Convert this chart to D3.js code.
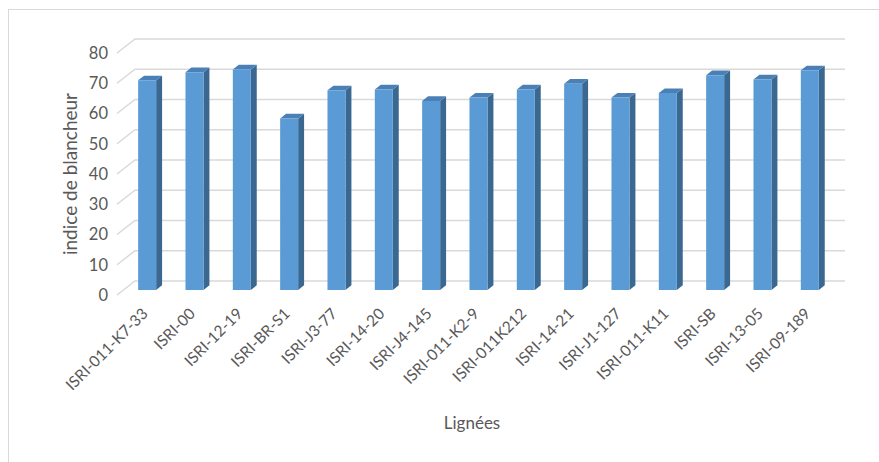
<!DOCTYPE html>
<html>
<head>
<meta charset="utf-8">
<script src="https://cdn.jsdelivr.net/npm/d3@7"></script>
<style>
  html, body { margin: 0; padding: 0; background: #fff; }
  svg { display: block; }
  text { font-family: Lato, "Open Sans", sans-serif; fill: #595959; }
</style>
</head>
<body>
<svg id="chart" width="879" height="462"></svg>
<script>
// Indice de blancheur par lignée
const categories = [
  "ISRI-011-K7-33", "ISRI-00", "ISRI-12-19", "ISRI-BR-S1", "ISRI-J3-77",
  "ISRI-14-20", "ISRI-J4-145", "ISRI-011-K2-9", "ISRI-011K212", "ISRI-14-21",
  "ISRI-J1-127", "ISRI-011-K11", "ISRI-SB", "ISRI-13-05", "ISRI-09-189"
];
const values = [69.3, 72.0, 72.9, 56.7, 66.0, 66.3, 62.5, 63.6, 66.3, 68.2, 63.6, 65.1, 71.0, 69.6, 72.6];
const yTicks = [0, 10, 20, 30, 40, 50, 60, 70, 80];
const yTitle = "indice de blancheur";
const xTitle = "Lignées";

const svg = d3.select("#chart");

// 3D frame: front plane and oblique depth offset
const front = { left: 117, right: 827, bottom: 295, top: 53 };
const depth = { dx: 18, dy: -14 };

const x = d3.scaleBand().domain(categories).range([front.left, front.right]);
const yFront = d3.scaleLinear().domain([0, 80]).range([front.bottom, front.top]);

// project a point (front-plane x, value, depth fraction) to screen
const P = (px, v, d) => [px + d * depth.dx, yFront(v) + d * depth.dy];

// chart border
svg.append("rect")
  .attr("x", 8.5).attr("y", 9.5)
  .attr("width", 1000).attr("height", 1000)
  .attr("fill", "none").attr("stroke", "#d9d9d9").attr("stroke-width", 1);

// gridlines: side wall slant + back wall horizontal
const grid = svg.append("g").attr("fill", "none")
  .attr("stroke", "#d9d9d9").attr("stroke-width", 1.5);
yTicks.forEach(t => {
  const a = P(front.left, t, 0), b = P(front.left, t, 1), c = P(front.right, t, 1);
  grid.append("path").attr("d", `M${a}L${b}L${c}`);
});

// bars as prisms: front face, top face, right side face
const barW = 18, d0 = 0.36, d1 = 0.69;
const bars = svg.append("g").selectAll("g").data(categories.map((c, i) => ({ c, v: values[i] })))
  .join("g");
bars.each(function (d) {
  const g = d3.select(this);
  const xl = x(d.c) + (x.bandwidth() - barW) / 2, xr = xl + barW;
  const poly = pts => "M" + pts.map(p => p.join(",")).join("L") + "Z";
  // side face
  g.append("path").attr("fill", "#3b6890")
    .attr("d", poly([P(xr, 0, d0), P(xr, 0, d1), P(xr, d.v, d1), P(xr, d.v, d0)]));
  // top face
  g.append("path").attr("fill", "#4b80b6")
    .attr("d", poly([P(xl, d.v, d0), P(xr, d.v, d0), P(xr, d.v, d1), P(xl, d.v, d1)]));
  // front face
  g.append("path").attr("fill", "#5b9bd5")
    .attr("d", poly([P(xl, 0, d0), P(xr, 0, d0), P(xr, d.v, d0), P(xl, d.v, d0)]));
});

// value axis on the front plane
const yAxis = svg.append("g").attr("transform", `translate(${front.left - 9},0)`)
  .call(d3.axisLeft(yFront).tickValues(yTicks).tickSize(0).tickPadding(0));
yAxis.select(".domain").remove();
yAxis.selectAll("text").attr("font-size", "16.5px").attr("fill", "#595959")
  .style("font-family", "Lato, 'Open Sans', sans-serif");

// category axis
const xAxis = svg.append("g").attr("transform", `translate(${d0 * depth.dx - 6},${front.bottom + 12})`)
  .call(d3.axisBottom(x).tickSize(0).tickPadding(0));
xAxis.select(".domain").remove();
xAxis.selectAll("text")
  .attr("font-size", "15.5px").attr("fill", "#595959")
  .style("font-family", "Lato, 'Open Sans', sans-serif")
  .attr("text-anchor", "end")
  .attr("dy", "0.7em").attr("y", 0).attr("x", 0)
  .attr("transform", "rotate(-45)");

// axis titles
svg.append("text")
  .attr("transform", "translate(77,174) rotate(-90)")
  .attr("text-anchor", "middle").attr("font-size", "19px")
  .text(yTitle);
svg.append("text")
  .attr("x", 472).attr("y", 429)
  .attr("text-anchor", "middle").attr("font-size", "17px")
  .text(xTitle);
</script>
</body>
</html>
